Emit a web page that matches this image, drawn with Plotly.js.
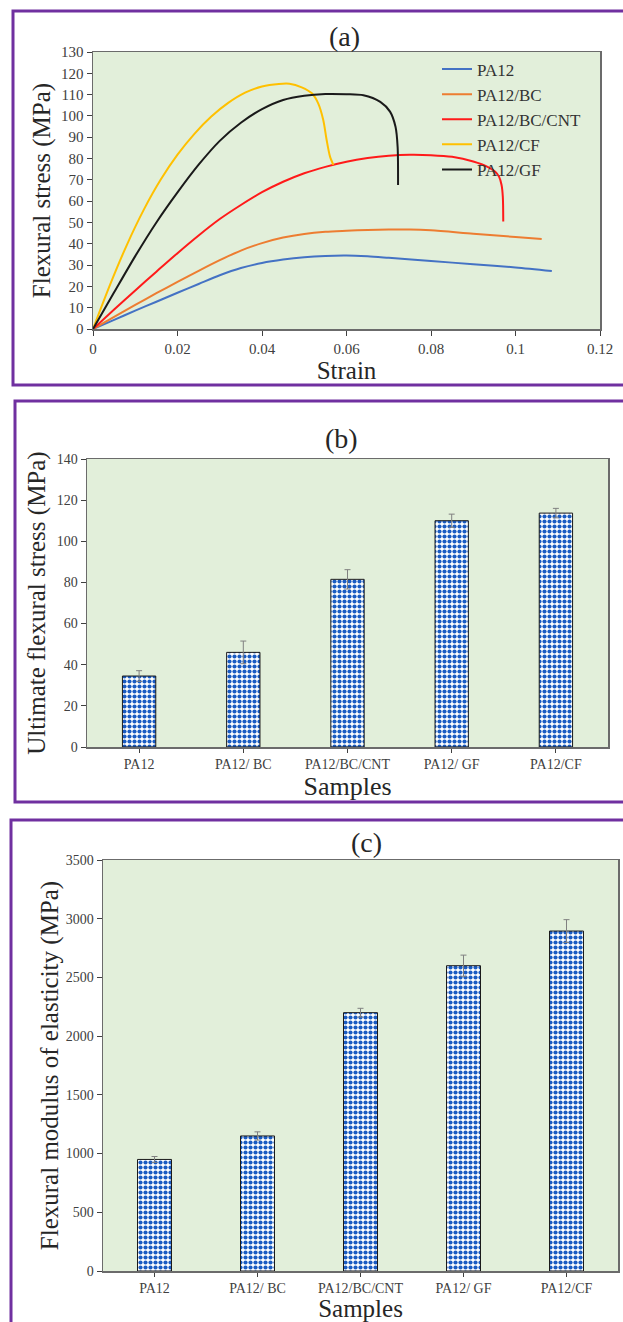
<!DOCTYPE html>
<html>
<head>
<meta charset="utf-8">
<script src="https://cdn.plot.ly/plotly-3.0.1.min.js"></script>
<style>
html,body{margin:0;padding:0;background:#fff;}
#chart{width:623px;height:1322px;}
</style>
</head>
<body>
<div id="chart"></div>
<script>
// ---------- Data: panel (a) stress-strain curves ----------
const pa12Strain = [0, 0.005, 0.010, 0.015, 0.020, 0.025, 0.030, 0.035, 0.040, 0.045, 0.050, 0.055, 0.060, 0.065, 0.070, 0.080, 0.090, 0.100, 0.1086];
const pa12Stress = [0, 4.3, 8.6, 12.8, 17.0, 21.1, 25.2, 28.6, 31.0, 32.6, 33.7, 34.3, 34.5, 34.1, 33.4, 31.9, 30.4, 28.9, 27.2];

const bcStrain = [0, 0.005, 0.010, 0.015, 0.020, 0.025, 0.030, 0.035, 0.040, 0.045, 0.050, 0.055, 0.060, 0.065, 0.070, 0.075, 0.080, 0.090, 0.100, 0.1062];
const bcStress = [0, 5.7, 11.3, 16.8, 22.1, 27.3, 32.3, 36.8, 40.3, 42.9, 44.6, 45.6, 46.1, 46.5, 46.7, 46.7, 46.3, 44.7, 43.2, 42.2];

const cntStrain = [0, 0.005, 0.010, 0.015, 0.020, 0.025, 0.030, 0.035, 0.040, 0.045, 0.050, 0.055, 0.060, 0.065, 0.070, 0.075, 0.080, 0.085, 0.090, 0.0935, 0.0952, 0.0961, 0.0967, 0.0970, 0.0971];
const cntStress = [0, 9.1, 18.1, 26.9, 35.6, 43.9, 51.6, 58.2, 64.2, 69.1, 73.1, 76.1, 78.5, 80.2, 81.3, 81.8, 81.6, 80.8, 78.6, 76.0, 73.8, 71.5, 67.6, 62.0, 50.4];

const cfStrain = [0, 0.004, 0.008, 0.012, 0.016, 0.020, 0.024, 0.028, 0.032, 0.036, 0.040, 0.044, 0.0465, 0.0494, 0.0518, 0.0533, 0.0545, 0.0553, 0.0561, 0.0569];
const cfStress = [0, 20.6, 39.4, 55.9, 70.0, 81.8, 91.6, 99.7, 106.1, 110.9, 113.8, 115.0, 115.1, 113.4, 110.6, 105.9, 98.1, 88.7, 80.9, 77.0];

const gfStrain = [0, 0.005, 0.010, 0.015, 0.020, 0.025, 0.030, 0.035, 0.040, 0.045, 0.050, 0.055, 0.060, 0.064, 0.068, 0.0703, 0.0716, 0.0721, 0.0722];
const gfStress = [0, 17.2, 34.2, 50.0, 64.1, 77.1, 88.3, 96.8, 103.2, 107.5, 109.5, 110.3, 110.2, 109.7, 106.6, 102.0, 94.9, 85.5, 67.6];

const seriesNames = ["PA12", "PA12/BC", "PA12/BC/CNT", "PA12/CF", "PA12/GF"];

// ---------- Data: panels (b) and (c) ----------
const samples = ["PA12", "PA12/ BC", "PA12/BC/CNT", "PA12/ GF", "PA12/CF"];
const ultimateStress = [34.5, 46.0, 81.5, 110.0, 113.7];
const ultimateStressErr = [2.6, 5.5, 4.7, 3.2, 2.3];
const modulus = [950, 1150, 2200, 2600, 2895];
const modulusErr = [25, 35, 37, 90, 97];

// ---------- Layout helpers (pixel -> paper) ----------
const W = 623, H = 1322;
const px = v => v / W;
const py = v => 1 - v / H;

const SERIF = "Liberation Serif, Times New Roman, serif";
const lineColors = ["#4472C4", "#ED7D31", "#FF1A1A", "#FFC000", "#1a1a1a"];
const xs = [pa12Strain, bcStrain, cntStrain, cfStrain, gfStrain];
const ys = [pa12Stress, bcStress, cntStress, cfStress, gfStress];

const traces = [];
for (let i = 0; i < 5; i++) {
  traces.push({
    type: "scatter", mode: "lines", name: seriesNames[i],
    x: xs[i], y: ys[i], xaxis: "x", yaxis: "y",
    line: {color: lineColors[i], width: 2, shape: "spline", smoothing: 0.8},
    hoverinfo: "skip"
  });
}

const barPattern = {shape: ".", fgcolor: "#1a5cc2", bgcolor: "#ffffff", size: 5, solidity: 0.55, fillmode: "replace"};

traces.push({
  type: "bar", x: samples, y: ultimateStress, xaxis: "x2", yaxis: "y2",
  width: 0.32, showlegend: false,
  marker: {color: "#ffffff", line: {color: "#1a1a1a", width: 1}, pattern: barPattern},
  error_y: {type: "data", array: ultimateStressErr, visible: true, color: "#808080", thickness: 1, width: 3}
});
traces.push({
  type: "bar", x: samples, y: modulus, xaxis: "x3", yaxis: "y3",
  width: 0.33, showlegend: false,
  marker: {color: "#ffffff", line: {color: "#1a1a1a", width: 1}, pattern: barPattern},
  error_y: {type: "data", array: modulusErr, visible: true, color: "#808080", thickness: 1, width: 3}
});

const axisCommon = {
  showline: true, linecolor: "#6b6b6b", linewidth: 1.5, mirror: true,
  showgrid: false, zeroline: false, ticks: "outside", ticklen: 5, tickcolor: "#404040",
  tickfont: {family: SERIF, size: 15, color: "#404040"}
};
const titleFont = {family: SERIF, size: 25, color: "#262626"};
const panelFont = {family: SERIF, size: 28, color: "#262626"};

const layout = {
  width: W, height: H,
  margin: {l: 0, r: 0, t: 0, b: 0},
  paper_bgcolor: "#ffffff",
  plot_bgcolor: "#E2EFDA",
  font: {family: SERIF, color: "#262626"},
  showlegend: true,
  legend: {
    x: px(437), y: py(51.5), xanchor: "left", yanchor: "top",
    bgcolor: "rgba(0,0,0,0)", borderwidth: 0, itemwidth: 30,
    font: {family: SERIF, size: 17, color: "#333333"}
  },
  xaxis: Object.assign({}, axisCommon, {
    domain: [px(93), px(600)], anchor: "y", range: [0, 0.12], dtick: 0.02, tick0: 0,
    title: {text: "Strain", font: titleFont, standoff: 2}
  }),
  yaxis: Object.assign({}, axisCommon, {
    domain: [py(329), py(52)], anchor: "x", range: [0, 130], dtick: 10,
    title: {text: "Flexural stress (MPa)", font: titleFont, standoff: 3}
  }),
  xaxis2: Object.assign({}, axisCommon, {
    domain: [px(87), px(608)], anchor: "y2", type: "category", range: [-0.5, 4.5], ticklen: 4,
    tickfont: {family: SERIF, size: 14, color: "#404040"},
    title: {text: "Samples", font: {family: SERIF, size: 26, color: "#262626"}, standoff: 3}
  }),
  yaxis2: Object.assign({}, axisCommon, {
    domain: [py(747), py(459)], anchor: "x2", range: [0, 140], dtick: 20,
    tickfont: {family: SERIF, size: 14, color: "#404040"},
    title: {text: "Ultimate flexural stress (MPa)", font: titleFont, standoff: 4}
  }),
  xaxis3: Object.assign({}, axisCommon, {
    domain: [px(103), px(618)], anchor: "y3", type: "category", range: [-0.5, 4.5], ticklen: 4,
    tickfont: {family: SERIF, size: 14, color: "#404040"},
    title: {text: "Samples", font: {family: SERIF, size: 25, color: "#262626"}, standoff: 3}
  }),
  yaxis3: Object.assign({}, axisCommon, {
    domain: [py(1271), py(860)], anchor: "x3", range: [0, 3500], dtick: 500,
    tickfont: {family: SERIF, size: 14, color: "#404040"},
    title: {text: "Flexural modulus of elasticity (MPa)", font: titleFont, standoff: 0}
  }),
  annotations: [
    {text: "(a)", x: px(344), y: py(36), xref: "paper", yref: "paper", xanchor: "center", yanchor: "middle", showarrow: false, font: panelFont},
    {text: "(b)", x: px(341), y: py(438), xref: "paper", yref: "paper", xanchor: "center", yanchor: "middle", showarrow: false, font: panelFont},
    {text: "(c)", x: px(367), y: py(842), xref: "paper", yref: "paper", xanchor: "center", yanchor: "middle", showarrow: false, font: panelFont}
  ],
  shapes: [
    {type: "rect", xref: "paper", yref: "paper", x0: px(13), x1: px(640), y0: py(385), y1: py(11), line: {color: "#7030A0", width: 3}},
    {type: "rect", xref: "paper", yref: "paper", x0: px(15), x1: px(640), y0: py(802), y1: py(401), line: {color: "#7030A0", width: 3}},
    {type: "rect", xref: "paper", yref: "paper", x0: px(11), x1: px(640), y0: py(1340), y1: py(820), line: {color: "#7030A0", width: 3}}
  ]
};

Plotly.newPlot("chart", traces, layout, {staticPlot: true, displayModeBar: false});
</script>
</body>
</html>
